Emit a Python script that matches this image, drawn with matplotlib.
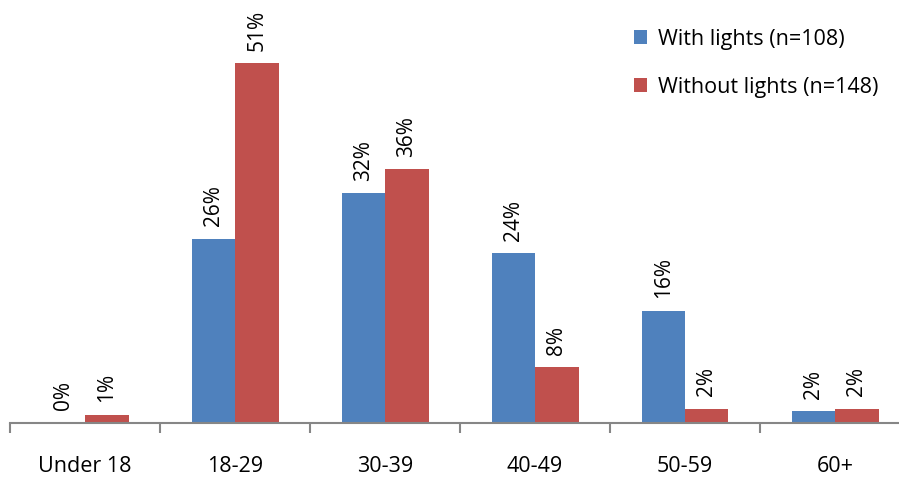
import numpy as np
import matplotlib
matplotlib.use("Agg")
import matplotlib.pyplot as plt

plt.rcParams['font.family'] = ['Open Sans', 'DejaVu Sans']

categories = ["Under 18", "18-29", "30-39", "40-49", "50-59", "60+"]
with_lights = [0.0, 26.1, 32.6, 24.1, 15.9, 1.7]
without_lights = [1.2, 51.0, 36.0, 7.9, 2.0, 2.0]
with_labels = ["0%", "26%", "32%", "24%", "16%", "2%"]
without_labels = ["1%", "51%", "36%", "8%", "2%", "2%"]

BLUE = "#4F81BD"
RED = "#C0504D"
GREY = "#868686"

fig = plt.figure(figsize=(8.99, 4.82), dpi=100)
ax = fig.add_axes([10 / 899, 59 / 482, 900 / 899, 423 / 482])

x = np.arange(len(categories))
w = 0.29
b1 = ax.bar(x - w / 2, with_lights, w, color=BLUE, label="With lights (n=108)")
b2 = ax.bar(x + w / 2, without_lights, w, color=RED, label="Without lights (n=148)")

for bars, labels in ((b1, with_labels), (b2, without_labels)):
    for bar, lab in zip(bars, labels):
        ax.annotate(lab, (bar.get_x() + bar.get_width() / 2, bar.get_height()),
                    xytext=(0, 9), textcoords="offset points", rotation=90,
                    ha="center", va="bottom", fontsize=15)

ax.set_xlim(-0.5, len(categories) - 0.5)
ax.set_ylim(0, 60)
ax.set_yticks([])
for s in ("left", "right", "top"):
    ax.spines[s].set_visible(False)
ax.spines["bottom"].set_color(GREY)
ax.spines["bottom"].set_linewidth(1.5)

ax.set_xticks(x)
ax.set_xticklabels(categories, fontsize=15.5)
ax.tick_params(axis="x", which="major", length=0, pad=24)
ax.set_xticks(np.arange(-0.5, len(categories)), minor=True)
ax.tick_params(axis="x", which="minor", length=7, width=1.5, color=GREY, direction="out")

ax.legend(loc="upper left", bbox_to_anchor=(0.672, 0.978), frameon=False, fontsize=15.5,
          handlelength=0.6, handleheight=0.6, handletextpad=0.5, labelspacing=1.25)

fig.savefig("out.png", dpi=100)
